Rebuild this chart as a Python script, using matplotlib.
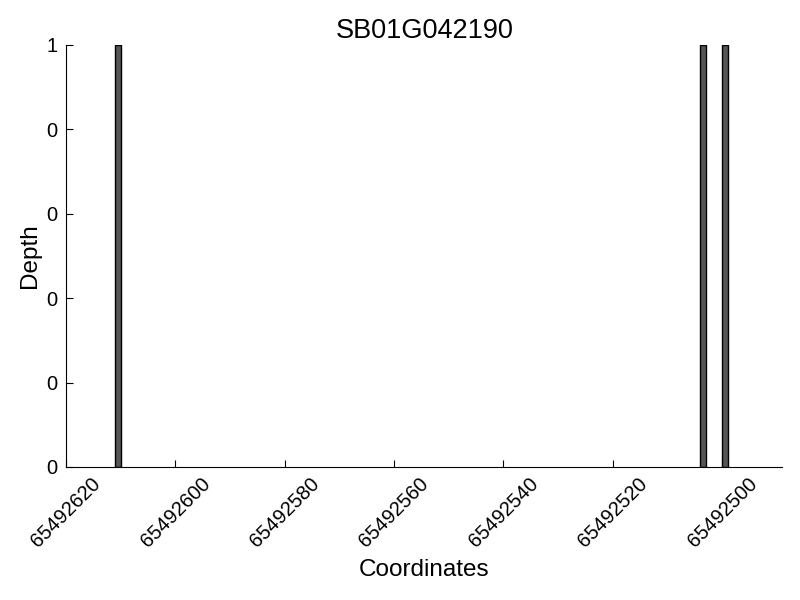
import matplotlib
matplotlib.use("Agg")
import matplotlib.pyplot as plt
from matplotlib.ticker import FormatStrFormatter, MultipleLocator

plt.rcParams['font.family'] = ['Liberation Sans', 'DejaVu Sans']

# данные покрытия
gene = "SB01G042190"
positions = [65492610, 65492503, 65492499]
depths = [1, 1, 1]
x_start = 65492620
x_end = 65492489

fig = plt.figure(figsize=(8, 6), dpi=100)
ax = fig.add_axes([0.0825, 0.2217, 0.8955, 0.7033])

ax.bar(positions, depths, width=1, align='edge', color='#555555',
       edgecolor='black', linewidth=1)

ax.set_xlim(x_start, x_end)
ax.set_ylim(0, 1)
ax.xaxis.set_major_locator(MultipleLocator(20))
ax.xaxis.set_major_formatter(FormatStrFormatter('%d'))
ax.yaxis.set_major_locator(MultipleLocator(0.2))
ax.yaxis.set_major_formatter(FormatStrFormatter('%d'))

ax.spines['top'].set_visible(False)
ax.spines['right'].set_visible(False)
ax.tick_params(direction='in', length=5, width=0.8, labelsize=14.5, top=False, right=False)
ax.tick_params(axis='y', pad=6)
ax.tick_params(axis='x', pad=5)
plt.setp(ax.get_xticklabels(), rotation=45)

ax.set_title(gene, fontsize=19.5, pad=5)
ax.set_xlabel("Coordinates", fontsize=17.5, labelpad=6)
ax.set_ylabel("Depth", fontsize=17.5, labelpad=4)

fig.savefig("out.png", dpi=100)
